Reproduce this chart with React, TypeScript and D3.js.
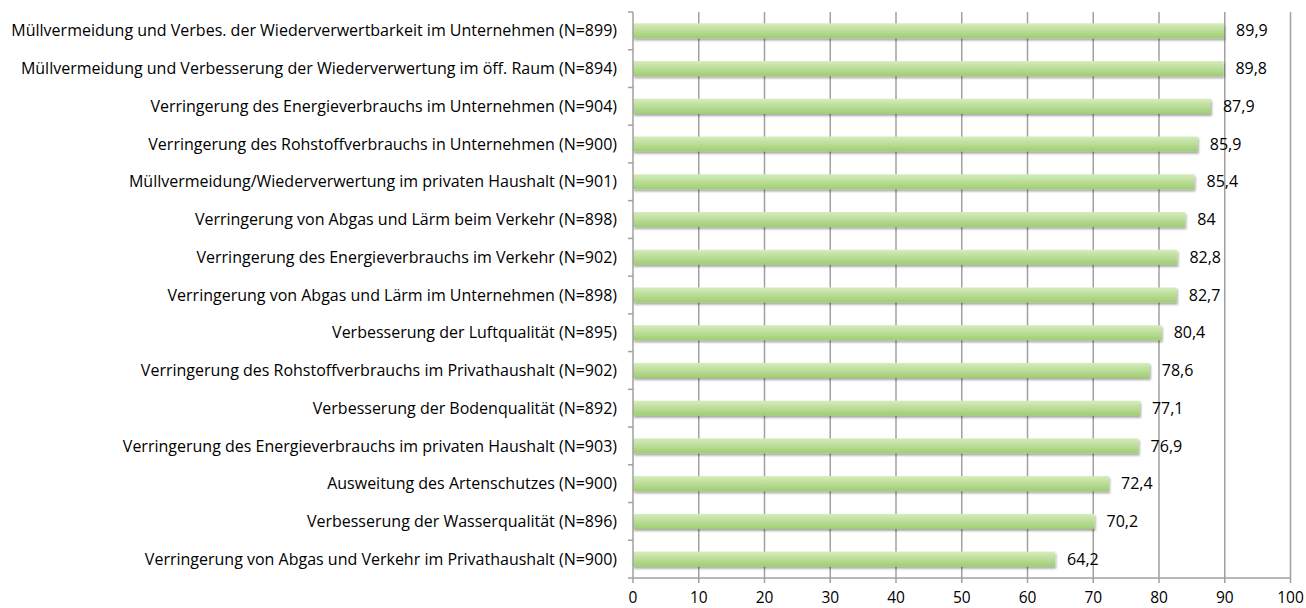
import { useEffect, useRef } from 'react';
import * as d3 from 'd3';

const categories = [
  'Müllvermeidung und Verbes. der Wiederverwertbarkeit im Unternehmen (N=899)',
  'Müllvermeidung und Verbesserung der Wiederverwertung im öff. Raum (N=894)',
  'Verringerung des Energieverbrauchs im Unternehmen (N=904)',
  'Verringerung des Rohstoffverbrauchs in Unternehmen (N=900)',
  'Müllvermeidung/Wiederverwertung im privaten Haushalt (N=901)',
  'Verringerung von Abgas und Lärm beim Verkehr (N=898)',
  'Verringerung des Energieverbrauchs im Verkehr (N=902)',
  'Verringerung von Abgas und Lärm im Unternehmen (N=898)',
  'Verbesserung der Luftqualität (N=895)',
  'Verringerung des Rohstoffverbrauchs im Privathaushalt (N=902)',
  'Verbesserung der Bodenqualität (N=892)',
  'Verringerung des Energieverbrauchs im privaten Haushalt (N=903)',
  'Ausweitung des Artenschutzes (N=900)',
  'Verbesserung der Wasserqualität (N=896)',
  'Verringerung von Abgas und Verkehr im Privathaushalt (N=900)',
];
const values = [89.9, 89.8, 87.9, 85.9, 85.4, 84, 82.8, 82.7, 80.4, 78.6, 77.1, 76.9, 72.4, 70.2, 64.2];
const xTicks = [0, 10, 20, 30, 40, 50, 60, 70, 80, 90, 100];

const W = 1306;
const H = 608;
const margin = { top: 12, right: 14, bottom: 30, left: 633 };
const font = '"Open Sans", sans-serif';
const fontSize = 16;

const fmt = (v: number) => String(v).replace('.', ',');

const BarChart = () => {
  const ref = useRef<SVGSVGElement>(null);

  useEffect(() => {
    const svg = d3.select(ref.current);
    svg.selectAll('*').remove();

    const x = d3.scaleLinear().domain([0, 100]).range([margin.left, W - margin.right - 1.5]);
    const y = d3
      .scaleBand()
      .domain(categories)
      .range([margin.top, H - margin.bottom])
      .paddingInner(0.6)
      .paddingOuter(0.3);

    const defs = svg.append('defs');
    const grad = defs
      .append('linearGradient')
      .attr('id', 'barGrad')
      .attr('x1', 0)
      .attr('y1', 0)
      .attr('x2', 0)
      .attr('y2', 1);
    grad.append('stop').attr('offset', '0%').attr('stop-color', '#d6ecbd');
    grad.append('stop').attr('offset', '100%').attr('stop-color', '#9fcd72');

    const shadow = defs.append('filter').attr('id', 'shadow').attr('x', '-5%').attr('y', '-30%').attr('width', '110%').attr('height', '180%');
    shadow.append('feDropShadow').attr('dx', 1).attr('dy', 2).attr('stdDeviation', 1.2).attr('flood-color', '#000').attr('flood-opacity', 0.35);

    const y0 = margin.top;
    const y1 = H - margin.bottom;

    // grid lines
    svg
      .append('g')
      .selectAll('line')
      .data(xTicks.slice(1))
      .enter()
      .append('line')
      .attr('x1', (d) => x(d))
      .attr('x2', (d) => x(d))
      .attr('y1', y0)
      .attr('y2', y1)
      .attr('stroke', '#a0a0a0')
      .attr('stroke-width', 1.5);

    // bars
    svg
      .append('g')
      .selectAll('rect')
      .data(values)
      .enter()
      .append('rect')
      .attr('x', x(0))
      .attr('y', (d, i) => y(categories[i])!)
      .attr('width', (d) => x(d) - x(0))
      .attr('height', y.bandwidth())
      .attr('fill', 'url(#barGrad)')
      .attr('filter', 'url(#shadow)');

    // value labels
    svg
      .append('g')
      .selectAll('text')
      .data(values)
      .enter()
      .append('text')
      .attr('x', (d) => x(d) + 12)
      .attr('y', (d, i) => y(categories[i])! + y.bandwidth() / 2)
      .attr('dy', '0.35em')
      .attr('font-family', font)
      .attr('font-size', fontSize)
      .attr('fill', '#000')
      .text((d) => fmt(d));

    // axes
    const step = y.step();
    const axisG = svg.append('g').attr('stroke', '#a0a0a0').attr('stroke-width', 1.5);
    axisG.append('line').attr('x1', x(0)).attr('x2', x(0)).attr('y1', y0).attr('y2', y1);
    axisG.append('line').attr('x1', x(0)).attr('x2', x(100)).attr('y1', y1).attr('y2', y1);
    axisG
      .selectAll('.ytick')
      .data(d3.range(categories.length + 1))
      .enter()
      .append('line')
      .attr('x1', x(0) - 5)
      .attr('x2', x(0))
      .attr('y1', (i) => y0 + i * step)
      .attr('y2', (i) => y0 + i * step);
    axisG
      .selectAll('.xtick')
      .data(xTicks)
      .enter()
      .append('line')
      .attr('x1', (d) => x(d))
      .attr('x2', (d) => x(d))
      .attr('y1', y1)
      .attr('y2', y1 + 5);

    svg
      .append('g')
      .selectAll('text')
      .data(xTicks)
      .enter()
      .append('text')
      .attr('x', (d) => x(d))
      .attr('y', y1 + 25)
      .attr('text-anchor', 'middle')
      .attr('font-family', font)
      .attr('font-size', 15.5)
      .text((d) => d);

    // category labels
    svg
      .append('g')
      .selectAll('text')
      .data(categories)
      .enter()
      .append('text')
      .attr('x', x(0) - 16)
      .attr('y', (d) => y(d)! + y.bandwidth() / 2)
      .attr('dy', '0.35em')
      .attr('text-anchor', 'end')
      .attr('font-family', font)
      .attr('font-size', fontSize)
      .text((d) => d);
  }, []);

  return (
    <svg
      ref={ref}
      width={W}
      height={H}
      style={{ display: 'block', background: '#fff', position: 'fixed', left: 0, top: 0 }}
    />
  );
};

export default function App() {
  return <BarChart />;
}
